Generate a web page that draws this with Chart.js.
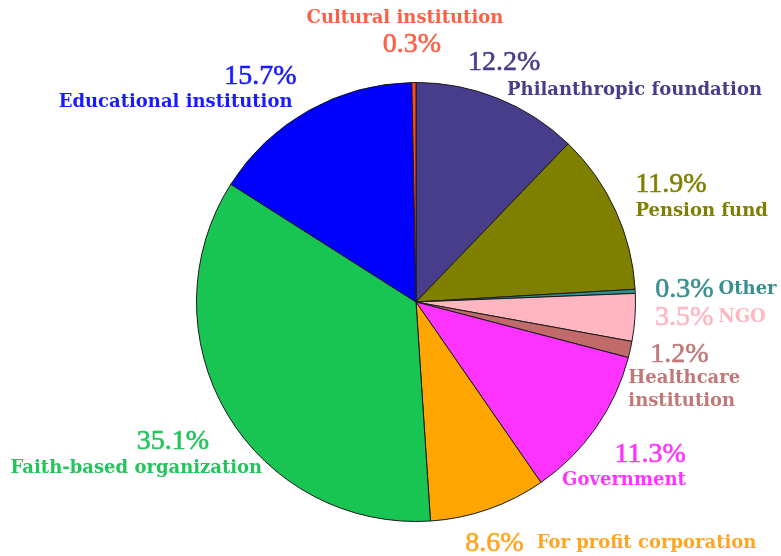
<!DOCTYPE html>
<html>
<head>
<meta charset="utf-8">
<script src="https://cdn.jsdelivr.net/npm/chart.js@4.4.0/dist/chart.umd.min.js"></script>
<style>
  html, body { margin: 0; padding: 0; background: #fff; }
  canvas { display: block; }
</style>
</head>
<body>
<canvas id="pieChart" width="781" height="556"></canvas>
<script>
// data, clockwise from the top
const categories = ['Philanthropic foundation', 'Pension fund', 'Other', 'NGO', 'Healthcare\ninstitution',
    'Government', 'For profit corporation', 'Faith-based organization', 'Educational institution', 'Cultural institution'];
const shares = [12.2, 11.9, 0.3, 3.5, 1.2, 11.3, 8.6, 35.1, 15.7, 0.3];
const sliceColors = ['#483d8b', '#808000', '#2f9090', '#ffb6c1', '#c06a6a',
    '#ff33ff', '#ffa500', '#19c552', '#0000ff', '#ff4a1c'];
const textColors = ['#483d8b', '#808000', '#3a8f8f', '#ffb6c1', '#c07878',
    '#ff33ff', '#ffa520', '#22c55a', '#1a1aff', '#ff5f45'];

// where each label sits, relative to the slice's outer edge point
const labelLayout = [
    { pct: [-30, -36, 'left'], name: [9, -8, 'left'] },
    { pct: [20, -26, 'left'], name: [20, 1, 'left'] },
    { pct: [20, -2, 'left'], inline: 5 },
    { pct: [20, 0, 'left'], inline: 5 },
    { pct: [20, 5, 'left'], name: [-2, 29, 'left'] },
    { pct: [90, 27, 'right'], name: [90, 53, 'right'] },
    { pct: [-23, 34, 'left'], inline: 13 },
    { pct: [-18, 28, 'right'], name: [35, 54, 'right'] },
    { pct: [-12, -34, 'right'], name: [-16, -8, 'right'] },
    { pct: [-2, -38, 'center'], name: [-9, -64, 'center'] }
];

const pctFont = '28px "Liberation Serif"';
const nameFont = 'bold 18px "DejaVu Serif"';

const pieLabels = {
    id: 'pieLabels',
    afterDraw(chart) {
        const ctx = chart.ctx;
        const meta = chart.getDatasetMeta(0);
        meta.data.forEach((arc, i) => {
            const p = arc.getProps(['x', 'y', 'startAngle', 'endAngle', 'outerRadius'], true);
            const mid = (p.startAngle + p.endAngle) / 2;
            const ex = p.x + Math.cos(mid) * p.outerRadius;
            const ey = p.y + Math.sin(mid) * p.outerRadius;
            const lay = labelLayout[i];
            const pctText = shares[i].toFixed(1) + '%';

            ctx.save();
            ctx.fillStyle = textColors[i];
            ctx.strokeStyle = textColors[i];
            ctx.lineWidth = 0.6;
            ctx.textBaseline = 'middle';

            ctx.font = pctFont;
            ctx.textAlign = lay.pct[2];
            const px = ex + lay.pct[0], py = ey + lay.pct[1];
            ctx.fillText(pctText, px, py);
            ctx.strokeText(pctText, px, py); // a bit heavier than plain roman

            if (lay.inline !== undefined) {
                const w = ctx.measureText(pctText).width;
                ctx.font = nameFont;
                ctx.textAlign = 'left';
                ctx.fillText(categories[i], px + w + lay.inline, py);
            } else {
                ctx.font = nameFont;
                ctx.textAlign = lay.name[2];
                categories[i].split('\n').forEach((line, k) => {
                    ctx.fillText(line, ex + lay.name[0], ey + lay.name[1] + k * 23);
                });
            }
            ctx.restore();
        });
    }
};

new Chart(document.getElementById('pieChart').getContext('2d'), {
    type: 'pie',
    data: {
        labels: categories,
        datasets: [{
            data: shares,
            backgroundColor: sliceColors,
            borderColor: '#1a1a1a',
            borderWidth: 1
        }]
    },
    options: {
        responsive: false,
        animation: false,
        layout: {
            padding: { top: 82, bottom: 34, left: 196, right: 145 }
        },
        plugins: {
            legend: { display: false },
            tooltip: { enabled: false }
        }
    },
    plugins: [pieLabels]
});
</script>
</body>
</html>
